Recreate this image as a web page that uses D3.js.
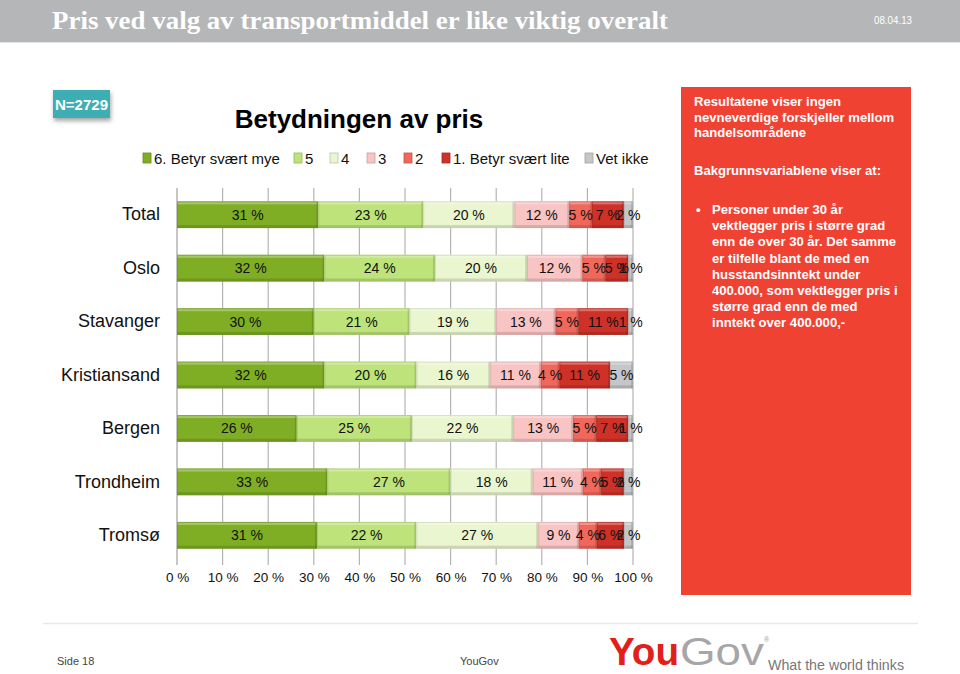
<!DOCTYPE html>
<html><head><meta charset="utf-8">
<script src="https://cdn.jsdelivr.net/npm/d3@7"></script>
<style>
html,body{margin:0;padding:0;background:#fff;}
svg{display:block;font-family:"Liberation Sans",Arial,sans-serif;}
</style></head>
<body>
<svg id="c" width="960" height="674"></svg>
<script>
const categories = ["Total","Oslo","Stavanger","Kristiansand","Bergen","Trondheim","Tromsø"];
const seriesNames = ["6. Betyr svært mye","5","4","3","2","1. Betyr svært lite","Vet ikke"];
const seriesColors = ["#7fae25","#bde37a","#e9f6cf","#f9c4c4","#f0685c","#cd3128","#c5c6ca"];
const s6 = [31,32,30,32,26,33,31];
const s5 = [23,24,21,20,25,27,22];
const s4 = [20,20,19,16,22,18,27];
const s3 = [12,12,13,11,13,11,9];
const s2 = [5,5,5,4,5,4,4];
const s1 = [7,5,11,11,7,5,6];
const sVet = [2,1,1,5,1,2,2];
const tickValues = [0,10,20,30,40,50,60,70,80,90,100];

const svg = d3.select("#c");

// header
svg.append("rect").attr("x",0).attr("y",0).attr("width",960).attr("height",42).attr("fill","#b5b6b8");
svg.append("line").attr("x1",0).attr("x2",960).attr("y1",42.5).attr("y2",42.5).attr("stroke","#e4e4e6");
svg.append("text").attr("x",52).attr("y",29).attr("fill","#fff")
  .attr("font-family","'Liberation Serif','DejaVu Serif',serif").attr("font-weight","bold")
  .attr("font-size",25).attr("textLength",616).attr("lengthAdjust","spacingAndGlyphs")
  .text("Pris ved valg av transportmiddel er like viktig overalt");
svg.append("text").attr("x",874).attr("y",24).attr("fill","#fff").attr("font-size",11)
  .attr("textLength",38).attr("lengthAdjust","spacingAndGlyphs").text("08.04.13");

// N box
const defs = svg.append("defs");
const sh = defs.append("filter").attr("id","sh").attr("x","-20%").attr("y","-20%").attr("width","150%").attr("height","160%");
sh.append("feDropShadow").attr("dx",1).attr("dy",3).attr("stdDeviation",2).attr("flood-color","#000").attr("flood-opacity",0.35);
svg.append("rect").attr("x",53).attr("y",90).attr("width",57).attr("height",28).attr("fill","#3eaeb3").attr("filter","url(#sh)");
svg.append("text").attr("x",81.5).attr("y",110).attr("text-anchor","middle").attr("fill","#fff")
  .attr("font-weight","bold").attr("font-size",15).text("N=2729");

// chart title
svg.append("text").attr("x",359).attr("y",128).attr("text-anchor","middle").attr("font-weight","bold")
  .attr("font-size",26).attr("fill","#000").text("Betydningen av pris");

// legend
const legendX = [143,294,330,367,404,442,585];
const lg = svg.append("g");
seriesNames.forEach((n,i)=>{
  const g = lg.append("g").attr("transform",`translate(${legendX[i]},153)`);
  g.append("rect").attr("width",8).attr("height",10).attr("fill",seriesColors[i]).attr("stroke",d3.color(seriesColors[i]).darker(0.6)).attr("stroke-width",0.8);
  g.append("text").attr("x",11).attr("y",11).attr("font-size",15).attr("fill","#111").text(n);
});

// chart
const margin = {left:177, right:633, top:188, bottom:562};
const x = d3.scaleLinear().domain([0,1]).range([margin.left, margin.right]);
const y = d3.scaleBand().domain(categories).range([margin.top, margin.bottom]).paddingInner(0.5).paddingOuter(0.25);

const seriesArrays = [s6,s5,s4,s3,s2,s1,sVet];
const rows = categories.map((c,i)=>{
  const o = {cat:c};
  seriesNames.forEach((n,j)=>o[n]=seriesArrays[j][i]);
  return o;
});
const stack = d3.stack().keys(seriesNames).offset(d3.stackOffsetExpand);
const layers = stack(rows);

// gridlines
const grid = svg.append("g");
tickValues.forEach(t=>{
  grid.append("line").attr("x1",x(t/100)).attr("x2",x(t/100)).attr("y1",margin.top).attr("y2",margin.bottom+3)
    .attr("stroke", t===0 ? "#a0a0a0" : "#b4b4b4").attr("stroke-width",1.2);
});

// x axis labels
const xAxis = d3.axisBottom(x).tickValues(tickValues.map(t=>t/100)).tickFormat(d=>`${Math.round(d*100)} %`).tickSize(0).tickPadding(10);
const xg = svg.append("g").attr("transform",`translate(0,${margin.bottom})`).call(xAxis);
xg.select(".domain").remove();
xg.selectAll("text").attr("font-size",13.5).attr("fill","#111").attr("font-family","'Liberation Sans',Arial,sans-serif");

// y axis labels
const yAxis = d3.axisLeft(y).tickSize(0).tickPadding(17);
const yg = svg.append("g").attr("transform",`translate(${margin.left},0)`).call(yAxis);
yg.select(".domain").remove();
yg.selectAll("text").attr("font-size",18).attr("fill","#111").attr("font-family","'Liberation Sans',Arial,sans-serif");

// bars
const bars = svg.append("g");
layers.forEach((layer,j)=>{
  const col = seriesColors[j];
  layer.forEach((d,i)=>{
    const x0 = x(d[0]), x1 = x(d[1]), yy = y(d.data.cat), h = y.bandwidth();
    const w = Math.max(0, x1-x0);
    const g = bars.append("g");
    g.append("rect").attr("x",x0).attr("y",yy).attr("width",w).attr("height",h).attr("fill",col);
    g.append("rect").attr("x",x0).attr("y",yy).attr("width",w).attr("height",3).attr("fill","#fff").attr("opacity",0.3);
    g.append("rect").attr("x",x0).attr("y",yy+h-3).attr("width",w).attr("height",3).attr("fill","#000").attr("opacity",0.13);
    g.append("rect").attr("x",x1-2).attr("y",yy).attr("width",Math.min(2,w)).attr("height",h).attr("fill","#000").attr("opacity",0.12);
    g.append("rect").attr("x",x0+0.5).attr("y",yy+0.5).attr("width",Math.max(0,w-1)).attr("height",h-1).attr("fill","none")
      .attr("stroke",d3.color(col).darker(0.5)).attr("stroke-width",1).attr("opacity",0.6);
  });
});
// labels
const labs = svg.append("g");
layers.forEach((layer,j)=>{
  layer.forEach((d,i)=>{
    const cx = (x(d[0])+x(d[1]))/2;
    labs.append("text").attr("x",cx).attr("y",y(d.data.cat)+y.bandwidth()/2+5)
      .attr("text-anchor","middle").attr("font-size",14).attr("fill","#111")
      .text(`${seriesArrays[j][i]} %`);
  });
});

// red box
svg.append("rect").attr("x",681).attr("y",87).attr("width",230).attr("height",508).attr("fill","#ef4233");
const tb = svg.append("g").attr("fill","#fff").attr("font-weight","bold").attr("font-size",13.1);
[["Resultatene viser ingen",106],["nevneverdige forskjeller mellom",121.5],["handelsområdene",137],["Bakgrunnsvariablene viser at:",175]]
  .forEach(([t,yy])=>tb.append("text").attr("x",694).attr("y",yy).text(t));
tb.append("text").attr("x",696).attr("y",214).text("•");
["Personer under 30 år","vektlegger pris i større grad","enn de over 30 år. Det samme","er tilfelle blant de med en","husstandsinntekt under","400.000, som vektlegger pris i","større grad enn de med","inntekt over 400.000,-"]
  .forEach((t,i)=>tb.append("text").attr("x",712).attr("y",214+i*16.2).text(t));

// footer
svg.append("line").attr("x1",43).attr("x2",918).attr("y1",623.5).attr("y2",623.5).attr("stroke","#f0e4ea").attr("stroke-width",1.5);
svg.append("text").attr("x",57).attr("y",665).attr("font-size",11).attr("fill","#444").text("Side 18");
svg.append("text").attr("x",460).attr("y",665).attr("font-size",11).attr("fill","#444").text("YouGov");
svg.append("text").attr("x",609).attr("y",665).attr("font-size",38).attr("font-weight","bold").attr("fill","#e0201b")
  .attr("textLength",70).attr("lengthAdjust","spacingAndGlyphs").text("You");
svg.append("text").attr("x",680).attr("y",665).attr("font-size",38).attr("fill","#a6a6a8")
  .attr("textLength",84).attr("lengthAdjust","spacingAndGlyphs").text("Gov");
svg.append("text").attr("x",768).attr("y",670).attr("font-size",14).attr("fill","#777")
  .attr("textLength",136).attr("lengthAdjust","spacingAndGlyphs").text("What the world thinks");
svg.append("text").attr("x",764).attr("y",642).attr("font-size",7).attr("fill","#999").text("®");
</script>
</body></html>
